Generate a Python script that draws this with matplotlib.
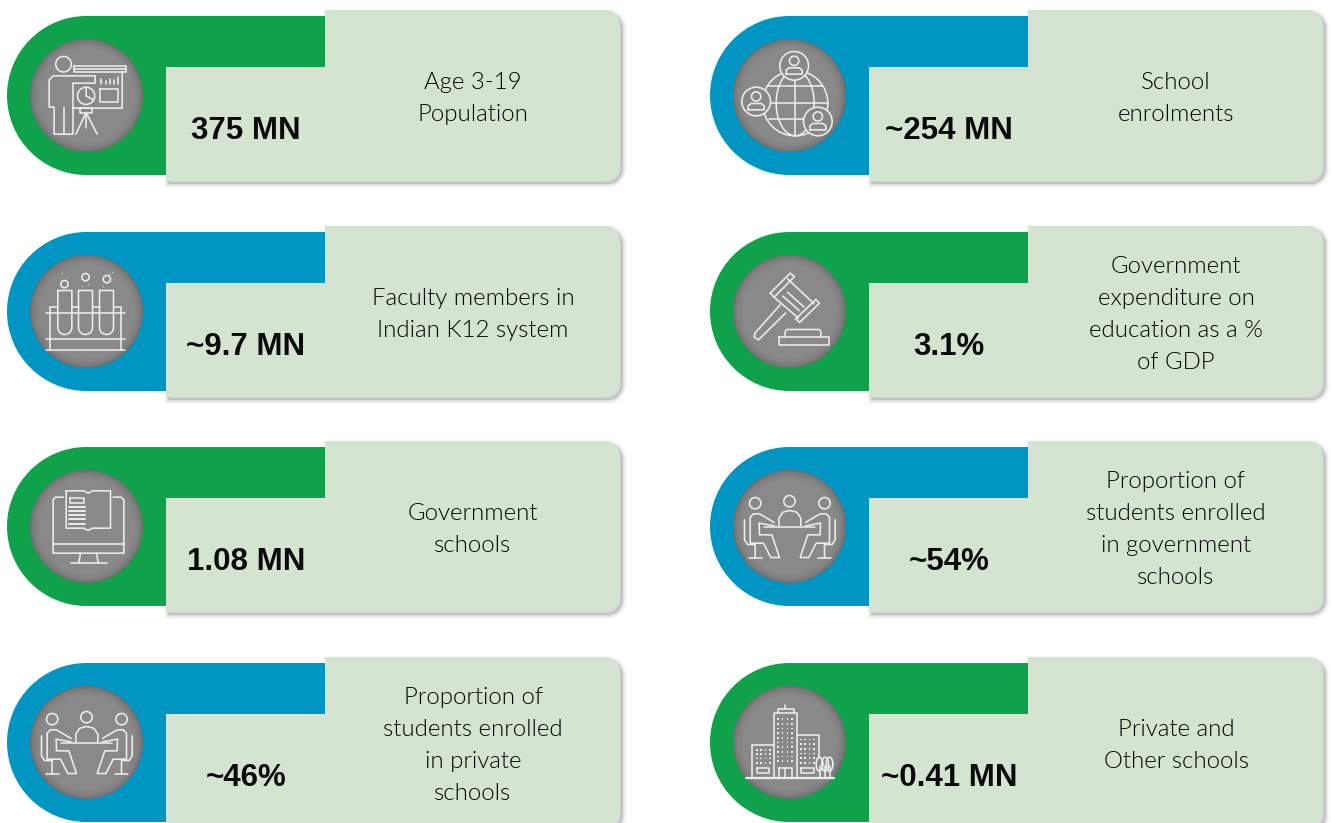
import matplotlib
matplotlib.use("Agg")
import matplotlib.pyplot as plt
from matplotlib.path import Path
from matplotlib.patches import PathPatch, Circle, Rectangle
from matplotlib.transforms import Affine2D
import numpy as np

values = ["375 MN", "~254 MN", "~9.7 MN", "3.1%", "1.08 MN", "~54%", "~46%", "~0.41 MN"]
labels = ["Age 3-19\nPopulation", "School\nenrolments", "Faculty members in\nIndian K12 system",
          "Government\nexpenditure on\neducation as a %\nof GDP", "Government\nschools",
          "Proportion of\nstudents enrolled\nin government\nschools",
          "Proportion of\nstudents enrolled\nin private\nschools", "Private and\nOther schools"]
GREEN, BLUE = "#10A24B", "#0095C3"
band_colors = [GREEN, BLUE, BLUE, GREEN, GREEN, BLUE, BLUE, GREEN]
icons = ["presenter", "globe", "tubes", "gavel", "book", "meeting", "meeting", "city"]
row_tops = [0, 216, 431, 647]
col_lefts = [0, 703]

LIGHT = "#D5E4D1"
LINE = "#EDEDED"
LW = 1.15

fig = plt.figure(figsize=(13.31, 8.23), dpi=100)
ax = fig.add_axes([0, 0, 1, 1])
ax.set_xlim(0, 1331)
ax.set_ylim(823, 0)
ax.axis("off")


def rounded_path(pts, radii):
    v, c = [], []
    n = len(pts)
    for i in range(n):
        p = np.array(pts[i], float)
        a = np.array(pts[i - 1], float)
        b = np.array(pts[(i + 1) % n], float)
        r = radii[i]
        if r == 0:
            v.append(p); c.append(Path.LINETO)
        else:
            d1 = (a - p) / np.linalg.norm(a - p)
            d2 = (b - p) / np.linalg.norm(b - p)
            v += [p + d1 * r, p + d1 * r * 0.45, p + d2 * r * 0.45, p + d2 * r]
            c += [Path.LINETO, Path.CURVE4, Path.CURVE4, Path.CURVE4]
    c[0] = Path.MOVETO
    v.append(v[0]); c.append(Path.CLOSEPOLY)
    return Path(v, c)


def draw_card(x0, y0, color):
    panel = rounded_path([(x0 + 166, y0 + 67), (x0 + 325, y0 + 67), (x0 + 325, y0 + 10),
                          (x0 + 620, y0 + 10), (x0 + 620, y0 + 181), (x0 + 166, y0 + 181)],
                         [0, 0, 0, 15, 15, 0])
    shifted = panel.transformed(Affine2D().translate(2.5, 3))
    for lw, a in [(6, 0.025), (5, 0.03), (4, 0.035), (3, 0.04), (2, 0.05), (1, 0.06)]:
        ax.add_patch(PathPatch(shifted, fc="#606060", ec="#606060", lw=lw, alpha=a, zorder=1))
    k = 0.5523
    r = 79.5
    cx, cy = x0 + 86.5, y0 + 95.5
    band = Path([(x0 + 330, cy - r), (cx, cy - r), (cx - k * r, cy - r), (cx - r, cy - k * r), (cx - r, cy),
                 (cx - r, cy + k * r), (cx - k * r, cy + r), (cx, cy + r), (x0 + 330, cy + r), (x0 + 330, cy - r)],
                [Path.MOVETO, Path.LINETO, Path.CURVE4, Path.CURVE4, Path.CURVE4, Path.CURVE4, Path.CURVE4,
                 Path.CURVE4, Path.LINETO, Path.CLOSEPOLY])
    ax.add_patch(PathPatch(band, fc=color, ec="none", zorder=2))
    ax.add_patch(PathPatch(panel, fc=LIGHT, ec="none", zorder=3))
    for rad, col in zip([56.5, 55.5, 54.5, 53, 51, 48], ["#6F6F6F", "#757575", "#7B7B7B", "#808080", "#858585", "#898989"]):
        ax.add_patch(Circle((cx, cy), rad, fc=col, ec="none", zorder=3))
    return cx, cy


class Ic:
    def __init__(self, cx, cy, zx, zy, sx=3.0, sy=3.0):
        self.cx, self.cy, self.zx, self.zy, self.sx, self.sy = cx, cy, zx, zy, sx, sy

    def m(self, x, y):
        return self.cx + (x - self.zx) / self.sx, self.cy + (y - self.zy) / self.sy

    def line(self, *pts, closed=False, lw=LW, z=4):
        xy = [self.m(*p) for p in pts]
        if closed:
            xy.append(xy[0])
        xs, ys = zip(*xy)
        ax.plot(xs, ys, color=LINE, lw=lw, zorder=z, solid_capstyle="round", solid_joinstyle="round")

    def rect(self, x0, y0, x1, y1, **kw):
        self.line((x0, y0), (x1, y0), (x1, y1), (x0, y1), closed=True, **kw)

    def circ(self, x, y, r, fill=None, z=4, lw=LW):
        px, py = self.m(x, y)
        ax.add_patch(Circle((px, py), r / self.sx, fc=fill or "none", ec=LINE, lw=lw, zorder=z))

    def dots(self, xs, ys, s=1.7):
        for x in xs:
            for y in ys:
                px, py = self.m(x, y)
                ax.add_patch(Rectangle((px - s / 2, py - s / 2), s, s, fc=LINE, ec="none", zorder=4))

    def arc(self, x, y, rx, ry, t0, t1, z=4, lw=LW):
        t = np.radians(np.linspace(t0, t1, 40))
        self.line(*zip(x + rx * np.cos(t), y + ry * np.sin(t)), z=z, lw=lw)


def presenter(cx, cy):
    I = Ic(cx, cy, 211, 287, 2.4375, 3.0)
    I.circ(155, 193, 19)
    I.rect(180, 198, 307, 215)
    I.line((180, 207), (307, 207))
    I.line((298, 215), (298, 325), (178, 325), (178, 403), (132, 403), (132, 322), (120, 322),
           (120, 240), (130, 228), (232, 228), (232, 250), (178, 250), (178, 325))
    I.line((155, 322), (155, 403))
    I.circ(210, 288, 21)
    I.line((210, 266), (210, 288), (228, 300))
    I.rect(245, 268, 288, 307)
    for x, t in zip([247, 258, 269, 279, 288], [238, 242, 236, 240, 230]):
        I.line((x, 252), (x, t))
    I.rect(195, 325, 225, 338)
    I.line((210, 338), (185, 403))
    I.line((210, 338), (237, 403))
    I.line((210, 338), (210, 385))


def person(I, x, y):
    I.circ(x, y, 43, fill="#888888", z=5)
    I.circ(x, y - 15, 14, z=6)
    X = [x - 24, x - 24, x - 15, x + 15, x + 24, x + 24]
    Y = [y + 25, y + 13, y + 6, y + 6, y + 13, y + 25]
    I.line(*zip(X, Y), closed=True, z=6)


def globe(cx, cy):
    I = Ic(cx, cy, 268, 287)
    I.circ(285, 310, 98)
    I.arc(285, 310, 57, 98, 0, 360)
    I.line((285, 212), (285, 408))
    I.line((205, 258), (365, 258))
    I.line((188, 310), (383, 310))
    I.line((205, 357), (365, 357))
    person(I, 282, 198)
    person(I, 168, 305)
    person(I, 353, 365)


def tubes(cx, cy):
    I = Ic(cx, cy, 258, 258)
    for x in (172, 234, 297):
        w = 42
        t = np.radians(np.linspace(180, 0, 20))
        arc = list(zip(x + w / 2 + w / 2 * np.cos(t), 306 + 21 * np.sin(t)))
        I.line((x, 195), *arc, (x + w, 195), closed=True)
    for x, y in [(192, 176), (255, 155), (319, 161)]:
        I.circ(x, y, 11)
    for x, y in [(187, 143), (200, 155), (246, 182), (263, 176), (308, 182), (335, 141), (326, 148)]:
        I.dots([x], [y], 1.3)
    I.line((137, 262), (373, 262))
    for a, b in [(147, 170), (214, 234), (276, 297), (339, 360)]:
        I.line((a, 245), (b, 245))
    for x in (147, 360):
        I.line((x, 245), (x, 372))
    I.line((137, 340), (373, 340))
    I.line((137, 372), (373, 372))


def gavel(cx, cy):
    I = Ic(cx, cy, 268, 258)
    I.line((210, 203), (270, 143), (283, 153), (222, 215), closed=True)
    I.line((287, 280), (347, 222), (358, 233), (298, 291), closed=True)
    I.line((262, 160), (342, 235))
    I.line((218, 212), (295, 278))
    I.line((248, 212), (297, 255))
    I.line((262, 200), (312, 245))
    I.line((240, 238), (165, 322), (162, 335), (175, 343), (257, 262))
    I.rect(235, 335, 386, 358)
    I.line((255, 335), (255, 318), (260, 312), (357, 312), (362, 318), (362, 335))


def book(cx, cy):
    I = Ic(cx, cy, 258, 260)
    I.line((188, 172), (165, 172), (158, 180), (158, 340), (370, 340), (370, 180), (362, 172), (338, 172))
    I.line((158, 312), (370, 312))
    I.line((240, 340), (235, 368))
    I.line((288, 340), (293, 368))
    I.line((210, 369), (318, 369))
    I.line((197, 153), (250, 153), (263, 160), (276, 153), (330, 153), (330, 265), (276, 265), (263, 272),
           (250, 265), (197, 265), closed=True)
    I.rect(208, 175, 250, 190)
    for y in (202, 214, 226, 238, 251):
        I.line((205, y), (253, y), lw=1.4)


def meeting(cx, cy):
    I = Ic(cx, cy, 268, 260)
    for x in (165, 268, 373):
        I.circ(x, 190 if x != 268 else 184, 17)
    I.line((236, 258), (236, 235), (248, 217), (268, 212), (290, 217), (302, 235), (302, 258))
    I.line((190, 260), (345, 260))
    for f in (lambda x: x, lambda x: 538 - x):
        I.line((f(177), 250), (f(222), 258))
        I.line((f(160), 222), (f(178), 222), (f(222), 248))
        I.line((f(160), 222), (f(150), 232), (f(150), 310), (f(190), 310), (f(212), 353), (f(238), 353),
               (f(215), 285), (f(178), 285), (f(177), 250))
        I.line((f(133), 240), (f(133), 300), (f(142), 314), (f(165), 314), (f(165), 353))
        I.line((f(145), 353), (f(184), 353))


def city(cx, cy):
    I = Ic(cx, cy, 268, 275)
    I.line((137, 380), (400, 380), lw=1.6)
    I.line((222, 380), (222, 185), (290, 185), (290, 380))
    I.line((232, 185), (232, 175), (280, 175), (280, 185))
    I.line((255, 175), (255, 162))
    I.line((222, 283), (155, 283), (155, 380))
    I.line((290, 252), (355, 252), (355, 320))
    I.rect(235, 352, 275, 380)
    I.line((255, 352), (255, 380))
    I.rect(170, 352, 207, 367)
    I.rect(302, 352, 340, 367)
    I.dots([233, 247, 262, 276], [205, 219, 233, 247, 261, 275, 289, 303, 317, 331])
    I.dots([170, 183, 196, 209], [297, 310, 323, 336])
    I.dots([302, 315, 328, 341], [266, 280, 294, 308, 322, 336])
    for x in (358, 375, 388):
        I.arc(x, 340, 10, 21, 0, 360)
        I.line((x, 345), (x, 380))


ICON = dict(presenter=presenter, globe=globe, tubes=tubes, gavel=gavel, book=book, meeting=meeting, city=city)

for i, (val, lab, col, ic) in enumerate(zip(values, labels, band_colors, icons)):
    x0 = col_lefts[i % 2]
    y0 = row_tops[i // 2]
    cx, cy = draw_card(x0, y0, col)
    ICON[ic](cx, cy)
    ax.text(x0 + 246, y0 + 127, val, fontsize=22.5, fontweight="bold", family="Liberation Sans", color="#0A0A0A",
            ha="center", va="center_baseline", zorder=5)
    ax.text(x0 + 473, y0 + 98.5, lab, fontsize=17.3, fontweight=300, family="Lato", color="#000000", ha="center",
            va="center", linespacing=1.65, zorder=5)

fig.savefig("out.png", dpi=100, facecolor="white")
